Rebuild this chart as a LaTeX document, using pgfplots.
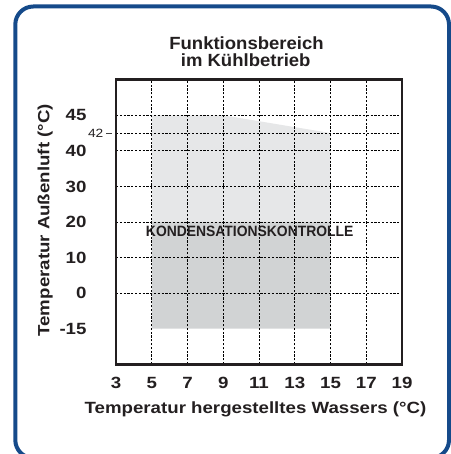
\documentclass[border=0pt]{standalone}
\usepackage{fontspec}
\setmainfont{Liberation Sans}
\newfontfamily\labfont[FakeStretch=1.15]{Liberation Sans}
\newfontfamily\titfont[FakeStretch=1.05]{Liberation Sans}
\newfontfamily\kfont[FakeStretch=0.93]{Liberation Sans}
\usepackage{pgfplots}
\pgfplotsset{compat=1.18}
\definecolor{frameblue}{RGB}{21,74,138}
\definecolor{lightfill}{RGB}{230,231,232}
\definecolor{darkfill}{RGB}{209,211,212}
\definecolor{ink}{RGB}{35,31,32}
\newcommand{\fortytwo}{{\mdseries\fontsize{12}{12}\selectfont 42\hspace{3bp}\textcolor{black!75}{\rule[3.95bp]{6bp}{0.7bp}}\kern-28.3bp}}
\begin{document}
\begin{tikzpicture}[x=1bp,y=1bp]
\path[use as bounding box] (0,0) rectangle (451,454);
\draw[frameblue, line width=4bp, rounded corners=18bp] (15.3,-4) rectangle (449,447.5);
\begin{axis}[
  at={(116bp,89.7bp)}, anchor=south west,
  scale only axis, width=286bp, height=284.6bp,
  xmin=3, xmax=19, ymin=-1, ymax=7,
  xtick={3,5,...,19}, xticklabels={3,5,7,9,11,13,15,17,19},
  ytick={0,1,2,3,4,5,5.5,6}, yticklabels={-15,0,10,20,30,40,\fortytwo,45},
  minor ytick={1,2,3,4,5,5.5,6},
  xmajorgrids, yminorgrids,
  major grid style={black, line width=0.7bp, dash pattern=on 2.2bp off 1.6bp},
  minor grid style={black, line width=0.7bp, dash pattern=on 2.2bp off 1.6bp},
  major tick length=0pt, minor tick length=0pt,
  axis line style={ink, line width=2.6bp},
  axis on top,
  ticklabel style={text=ink, font=\labfont\bfseries\fontsize{16.3}{16.3}\selectfont},
  xticklabel style={anchor=base, inner sep=0pt, yshift=-24.7bp},
  yticklabel style={anchor=east, inner sep=0pt, xshift=-29.3bp},
]
\addplot[fill=lightfill, draw=none] coordinates {(5,3) (5,6) (9,6) (15,5.5) (15,3) (5,3)};
\addplot[fill=darkfill, draw=none] coordinates {(5,0) (5,3) (15,3) (15,0) (5,0)};
\node[font=\kfont\bfseries\fontsize{15}{15}\selectfont, text=ink] at (axis cs:10.48,2.75) {KONDENSATIONSKONTROLLE};
\end{axis}
\node[anchor=base, font=\titfont\bfseries\fontsize{17.7}{17.7}\selectfont, text=ink] at (246.5,404.7) {Funktionsbereich};
\node[anchor=base, font=\titfont\bfseries\fontsize{17.7}{17.7}\selectfont, text=ink] at (245.7,387.3) {im Kühlbetrieb};
\node[anchor=base, font=\labfont\bfseries\fontsize{16.3}{16.3}\selectfont, text=ink] at (255.5,40.7) {Temperatur hergestelltes Wassers (°C)};
\node[rotate=90, anchor=base, font=\labfont\bfseries\fontsize{16.3}{16.3}\selectfont, text=ink] at (49.3,233.7) {Temperatur Außenluft (°C)};
\end{tikzpicture}
\end{document}
